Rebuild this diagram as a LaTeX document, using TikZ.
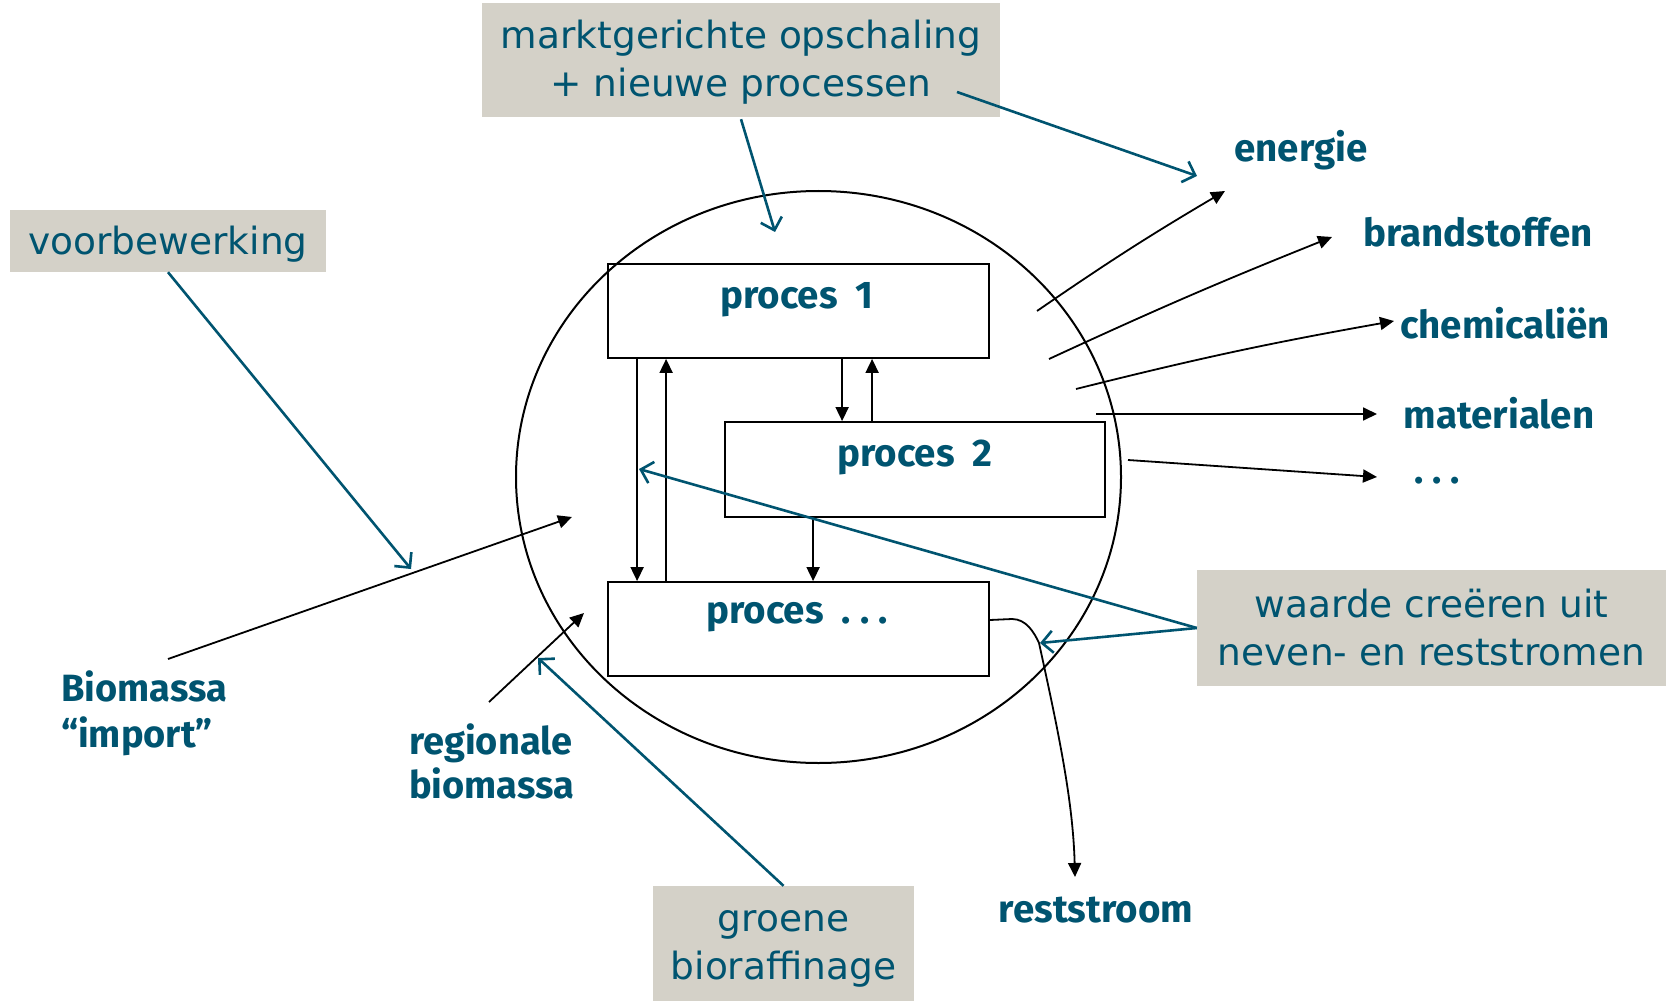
\documentclass[tikz,border=0pt]{standalone}
\usepackage{fontspec}
\setmainfont{DejaVu Sans}
\newfontfamily\labelfont{Fira Sans}
\usetikzlibrary{arrows.meta}
\definecolor{tealtxt}{RGB}{0,84,112}
\definecolor{boxgrey}{RGB}{212,209,200}
\newcommand{\tridots}{.\hspace{9pt}.\hspace{9pt}.}
\begin{document}
\begin{tikzpicture}[x=1pt,y=-1pt,
  greybox/.style={fill=boxgrey, draw=none, inner sep=0pt},
  boxtext/.style={text=tealtxt, inner sep=0pt, font=\fontsize{37.5}{48}\selectfont, align=center},
  lbl/.style={text=tealtxt, font=\labelfont\bfseries\fontsize{38.5}{44}\selectfont, inner sep=0pt},
  proc/.style={draw=black, line width=1.8pt, inner sep=0pt},
  flow/.style={draw=black, line width=1.8pt, -{Triangle[length=14pt,width=13pt]}},
  note/.style={draw=tealtxt, line width=2.6pt, -{Straight Barb[length=11pt,width=22pt]}}
]
\useasboundingbox (0,0) rectangle (1671,1003);

% circle
\draw[line width=2pt] (818.5,477) ellipse [x radius=302.5, y radius=286];

% process boxes
\node[proc, minimum width=381pt, minimum height=94pt] (p1) at (798.5,311) {};
\node[proc, minimum width=380pt, minimum height=95pt] (p2) at (915,469.5) {};
\node[proc, minimum width=381pt, minimum height=94pt] (p3) at (798.5,629) {};
\node[lbl] (p1t) at (797,300) {proces\ \ 1};
\node[lbl] (p2t) at (915,457) {proces\ \ 2};
\node[lbl] (p3t) at (797,617) {proces\ \ \tridots};

% flows between processes
\draw[flow] ([xshift=30pt]p1.south west) -- ([xshift=30pt]p3.north west);
\draw[flow] ([xshift=59pt]p3.north west) -- ([xshift=59pt]p1.south west);
\draw[flow] ([xshift=235pt]p1.south west) -- ([xshift=118pt]p2.north west);
\draw[flow] ([xshift=148pt]p2.north west) -- ([xshift=265pt]p1.south west);
\draw[flow] ([xshift=89pt]p2.south west) -- ([xshift=206pt]p3.north west);

% grey annotation boxes
\node[greybox, minimum width=518pt, minimum height=114pt] (bA) at (741,60) {};
\node[boxtext] (bAt) at (741,62) {marktgerichte opschaling\\+ nieuwe processen};
\node[greybox, minimum width=316pt, minimum height=62pt] (bB) at (168,241) {};
\node[boxtext] (bBt) at (168,244) {voorbewerking};
\node[greybox, minimum width=469pt, minimum height=116pt] (bC) at (1431.5,628) {};
\node[boxtext] (bCt) at (1431.5,628) {waarde creëren uit\\neven- en reststromen};
\node[greybox, minimum width=261pt, minimum height=115pt] (bD) at (783.5,943.5) {};
\node[boxtext] (bDt) at (783.5,949) {groene\\bioraffinage};

% output labels
\node[lbl] (energie) at (1301,150) {energie};
\node[lbl] (brand) at (1478,232) {brandstoffen};
\node[lbl] (chem) at (1505,323) {chemicaliën};
\node[lbl] (mat) at (1499,413) {materialen};
\node[lbl] (dots) at (1437,481) {\tridots};
\node[lbl] (rest) at (1096,910) {reststroom};
\node[lbl, align=left, anchor=west, font=\labelfont\bfseries\fontsize{38}{46}\selectfont] (import) at (61,713) {Biomassa\\“import”};
\node[lbl, align=left, anchor=west, font=\labelfont\bfseries\fontsize{38}{44}\selectfont] (regio) at (409,761) {regionale\\biomassa};

% output arrow coordinates
\coordinate (oE) at (1037,311);
\coordinate (tE) at (1225,191);
\coordinate (oB) at (1049,359);
\coordinate (tB) at (1332,237);
\coordinate (oC) at (1076,389);
\coordinate (tC) at (1394,321);
\coordinate (oM) at (1096,414);
\coordinate (tM) at (1377,414);
\coordinate (oD) at (1128,460);
\coordinate (tD) at (1377,477);
\draw[flow] (oE) to[bend left=2] (tE);
\draw[flow] (oB) to[bend left=1.5] (tB);
\draw[flow] (oC) to[bend left=2] (tC);
\draw[flow] (oM) -- (tM);
\draw[flow] (oD) -- (tD);

% inputs
\coordinate (iB) at (168,659);
\coordinate (iBe) at (572,517);
\coordinate (iR) at (489,702);
\coordinate (iRe) at (584,613);
\draw[flow] (iB) -- (iBe);
\draw[flow] (iR) -- (iRe);

% reststroom
\coordinate (rK) at (1039,643);
\coordinate (rE) at (1075,877);
\draw[flow] (p3.east |- 0,620) -- (1012,619) .. controls (1026,619) and (1034,632) .. (rK)
  .. controls (1058,730) and (1073,800) .. (rE);

% teal annotation arrows
\coordinate (nA1) at (775,232);
\coordinate (nA2) at (1197,176);
\coordinate (nB) at (411,569);
\coordinate (nD) at (538,658);
\coordinate (nC1) at (639,469);
\coordinate (nC2) at (1040,643);
\draw[note] (bA.south) ++(0,2) -- (nA1);
\draw[note] (957,92) -- (nA2);
\draw[note] (bB.south) -- (nB);
\draw[note] (bD.north) -- (nD);
\draw[note] (bC.west) -- (nC1);
\draw[note] (bC.west) -- (nC2);
\end{tikzpicture}
\end{document}
